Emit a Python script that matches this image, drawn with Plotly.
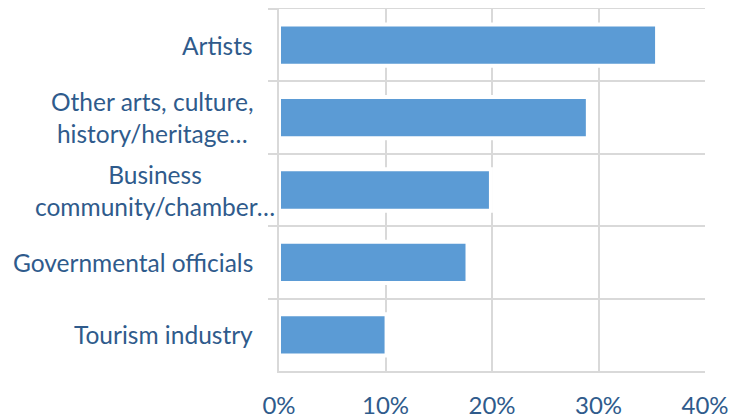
import plotly.graph_objects as go

categories = ["Artists", "Other arts, culture,<br>history/heritage…", "Business<br>community/chamber…",
              "Governmental officials", "Tourism industry"]
values = [35.5, 29.0, 19.9, 17.7, 10.1]
x_ticks = [0, 10, 20, 30, 40]
x_tick_labels = ["0%", "10%", "20%", "30%", "40%"]

TEXT = "#2f5b8c"
GRID = "#d9d9d9"
FONT = "Lato"

fig = go.Figure()
fig.add_trace(go.Bar(
    y=categories, x=values, orientation="h",
    marker=dict(color="#5b9bd5", line=dict(color="white", width=4)),
    width=0.57, hoverinfo="skip",
))

label_shift = {categories[2]: -2}
for c in categories:
    fig.add_annotation(
        x=0, xref="paper", y=c, yref="y", text=c, showarrow=False,
        xanchor="right", align="center", xshift=label_shift.get(c, -24),
        font=dict(family=FONT, size=24.5, color=TEXT),
    )

# page body has an 8px margin, so the figure is sized to fit the 741x418 window
fig.update_layout(
    width=733, height=410,
    margin=dict(l=271, r=36, t=1, b=47, autoexpand=False),
    paper_bgcolor="white", plot_bgcolor="white",
    showlegend=False,
    font=dict(family=FONT, size=24, color=TEXT),
    xaxis=dict(
        range=[0, 40], tickvals=x_ticks, ticktext=x_tick_labels,
        showgrid=True, gridcolor=GRID, gridwidth=2,
        showline=True, linecolor=GRID, linewidth=2, mirror=True,
        zeroline=False, ticks="", ticklabelstandoff=12, automargin=False,
        tickfont=dict(family=FONT, size=24, color=TEXT),
    ),
    yaxis=dict(
        categoryorder="array", categoryarray=categories, autorange="reversed",
        tickson="boundaries", ticks="outside", ticklen=9, tickcolor=GRID, tickwidth=2,
        showgrid=True, gridcolor=GRID, gridwidth=2,
        showline=True, linecolor=GRID, linewidth=2,
        showticklabels=False, zeroline=False, automargin=False,
    ),
)

fig.write_html("out.html")
